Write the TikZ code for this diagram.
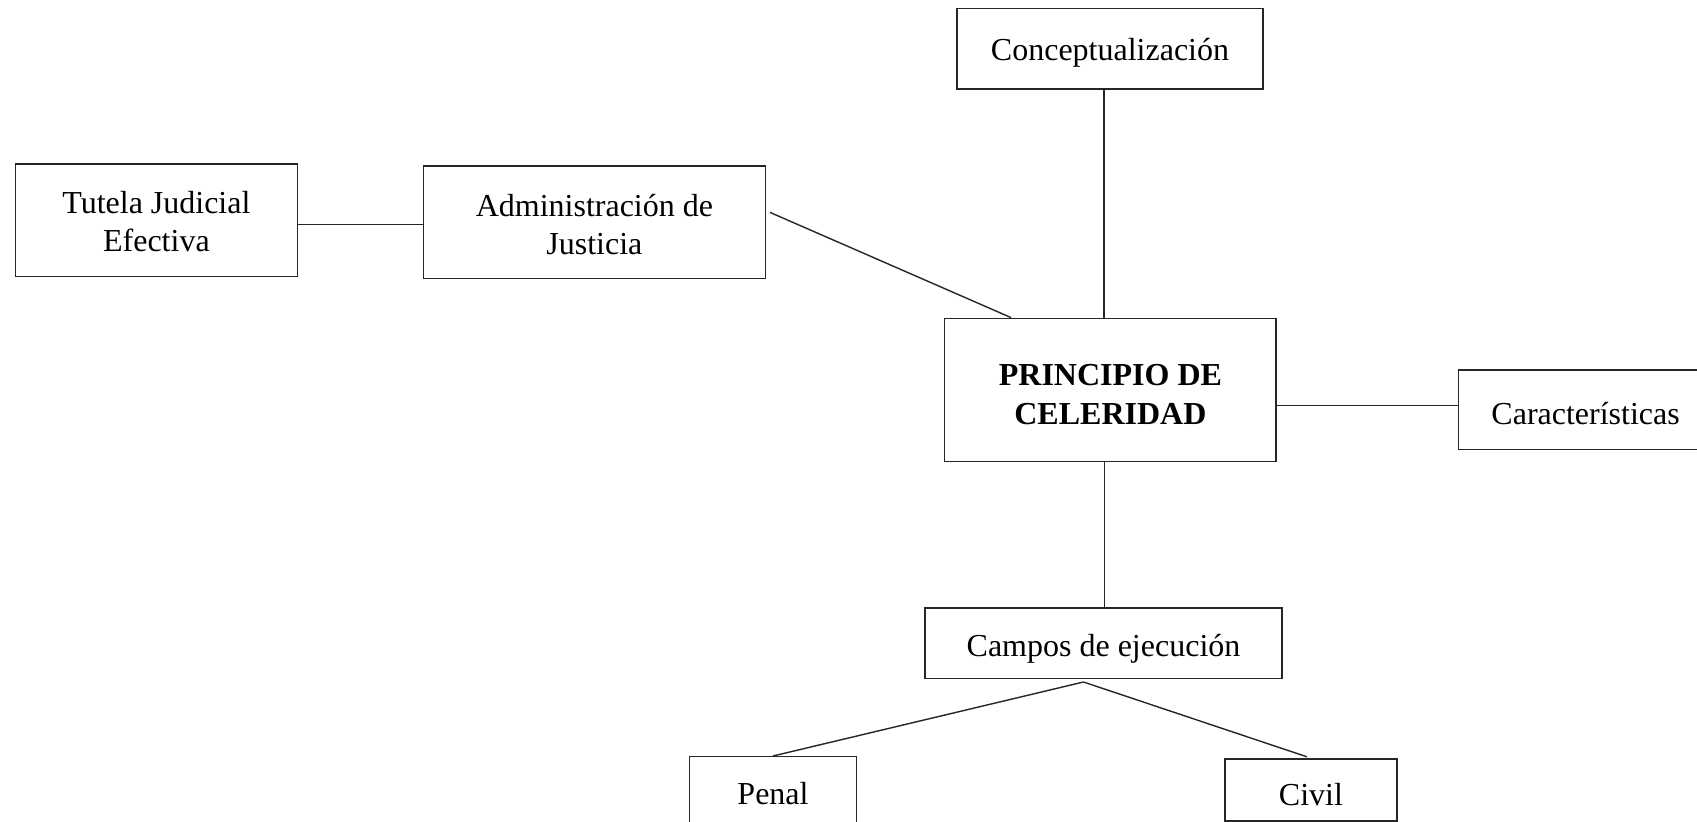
\documentclass[tikz,border=0pt]{standalone}
\usepackage{fontspec}
\setmainfont{Liberation Serif}
\usetikzlibrary{calc}
\newcommand\liftto[1]{\rule{0pt}{#1}}
\begin{document}
\begin{tikzpicture}[x=0.5pt,y=-0.5pt,
  box/.style={draw=black!85,line width=0.7pt,rectangle,inner sep=0pt,align=center,
    font=\fontsize{16pt}{19pt}\selectfont},
  link/.style={draw=black!85,line width=0.7pt}]
\useasboundingbox (0,0) rectangle (1697,822);
\clip (0,0) rectangle (1697,822);
\fill[white] (0,0) rectangle (1697,822);
\node[box,minimum width=141pt,minimum height=56.4pt] (tutela) at (156.4,220.4) {\liftto{12pt}Tutela Judicial\\Efectiva};
\node[box,minimum width=170.9pt,minimum height=56.4pt] (admin) at (594.4,222.4) {\liftto{13.5pt}Administración de\\Justicia};
\node[box,minimum width=153pt,minimum height=40.4pt] (concept) at (1110,48.7) {\liftto{15.7pt}Conceptualización};
\node[box,minimum width=165.7pt,minimum height=71.7pt,font=\fontsize{16pt}{19.5pt}\selectfont\bfseries] (principio) at (1110.4,390) {\liftto{15pt}PRINCIPIO DE\\CELERIDAD};
\node[box,minimum width=126.9pt,minimum height=39.7pt] (caract) at (1585.6,409.7) {\liftto{14.7pt}Características};
\node[box,minimum width=178.5pt,minimum height=35.4pt] (campos) at (1103.5,643.4) {\liftto{16.5pt}Campos de ejecución};
\node[box,minimum width=83.5pt,minimum height=36.7pt] (penal) at (773,793.4) {Penal};
\node[box,minimum width=85.9pt,minimum height=30.9pt] (civil) at (1310.9,789.9) {\liftto{15.3pt}Civil};
% connectors
\draw[link] (tutela.east |- 0,224.7) -- (admin.west |- 0,224.7);
\draw[link] ($(admin.east)+(4,-10)$) -- ($(principio.north west)+(67,0)$);
\draw[link] ([xshift=-3pt]concept.south) -- ([xshift=-3pt]concept.south |- principio.north);
\draw[link] (principio.east |- 0,405.5) -- (caract.west |- 0,405.5);
\draw[link] ([xshift=-3pt]principio.south) -- ([xshift=-3pt]principio.south |- campos.north);
\coordinate (br) at ($(campos.south)+(-20,2.5)$);
\draw[link] (br) -- (penal.north);
\draw[link] (br) -- ($(civil.north)+(-4,-1.5)$);
\end{tikzpicture}
\end{document}
